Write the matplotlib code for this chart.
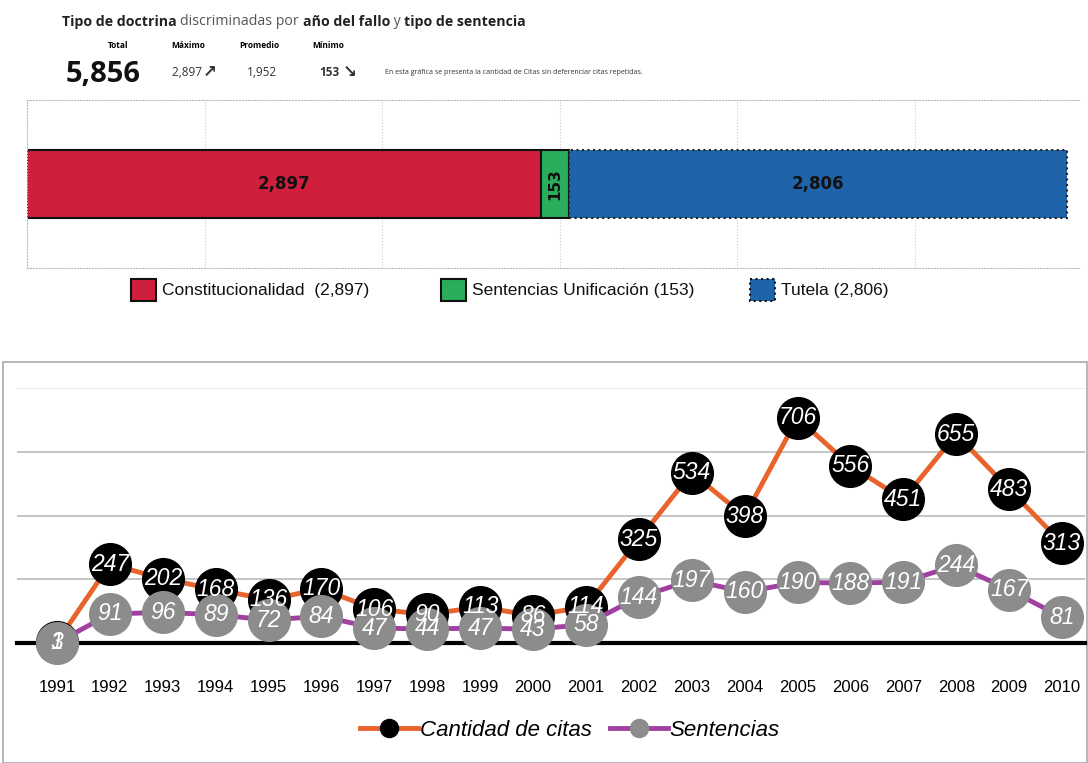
import matplotlib
matplotlib.use('Agg')
import matplotlib.pyplot as plt
from matplotlib.patches import Rectangle
from matplotlib.lines import Line2D

# --- data ---
tipos = ['Constitucionalidad', 'Sentencias Unificación', 'Tutela']
tipo_valores = [2897, 153, 2806]
tipo_colores = ['#D01F3C', '#2BAE5B', '#1F63A8']

anios = list(range(1991, 2011))
citas = [3, 247, 202, 168, 136, 170, 106, 90, 113, 86, 114,
         325, 534, 398, 706, 556, 451, 655, 483, 313]
sentencias = [1, 91, 96, 89, 72, 84, 47, 44, 47, 43, 58,
              144, 197, 160, 190, 188, 191, 244, 167, 81]

W, H = 1088, 763
NARROW = ['Liberation Sans Narrow', 'Liberation Sans', 'DejaVu Sans']
HEAD = ['Open Sans', 'DejaVu Sans']


def box(x0, y0, x1, y1):
    return [x0 / W, 1 - y1 / H, (x1 - x0) / W, (y1 - y0) / H]


def main():
    fig = plt.figure(figsize=(W / 100, H / 100), dpi=100)
    fig.patch.set_facecolor('white')

    # overlay in pixel coordinates for header text and legend boxes
    bg = fig.add_axes([0, 0, 1, 1])
    bg.set_xlim(0, W)
    bg.set_ylim(H, 0)
    bg.axis('off')

    # title, built piece by piece
    parts = [('Tipo de doctrina ', 'bold', '#222222'),
             ('discriminadas por ', 'normal', '#555555'),
             ('año del fallo', 'bold', '#222222'),
             (' y ', 'normal', '#555555'),
             ('tipo de sentencia', 'bold', '#222222')]
    prev = bg.text(62, 26, parts[0][0], fontsize=10.2, fontweight=parts[0][1],
                   color=parts[0][2], family=HEAD, va='baseline')
    for txt, wt, col in parts[1:]:
        prev = bg.annotate(txt, xy=(1, 0), xycoords=prev, fontsize=10.2,
                           fontweight=wt, color=col, family=HEAD, va='bottom')

    total = sum(tipo_valores)
    maximo = max(tipo_valores)
    minimo = min(tipo_valores)
    promedio = round(total / len(tipo_valores))

    bg.text(118, 46, 'Total', fontsize=6, fontweight='bold', family=HEAD, ha='center', va='center')
    bg.text(103, 74, f'{total:,}', fontsize=21, fontweight='bold', family=HEAD,
            ha='center', va='center', color='#111111')
    bg.text(188, 46, 'Máximo', fontsize=6, fontweight='bold', family=HEAD, ha='center', va='center')
    bg.text(172, 73, f'{maximo:,} ', fontsize=8.5, family=HEAD, ha='left', va='center', color='#333333')
    bg.text(210, 72, '↗', fontsize=12, fontweight='bold', family=['DejaVu Sans'],
            ha='center', va='center', color='#333333')
    bg.text(259, 46, 'Promedio', fontsize=6, fontweight='bold', family=HEAD, ha='center', va='center')
    bg.text(262, 73, f'{promedio:,}', fontsize=8.5, family=HEAD, ha='center', va='center', color='#333333')
    bg.text(328, 46, 'Mínimo', fontsize=6, fontweight='bold', family=HEAD, ha='center', va='center')
    bg.text(339, 73, f'{minimo:,}', fontsize=8.5, fontweight='bold', family=HEAD,
            ha='right', va='center', color='#333333')
    bg.text(350, 72, '↘', fontsize=12, fontweight='bold', family=['DejaVu Sans'],
            ha='center', va='center', color='#333333')
    bg.text(385, 73, 'En esta gráfica se presenta la cantidad de Citas sin deferenciar citas repetidas.',
            fontsize=5, family=HEAD, ha='left', va='center', color='#333333')

    # --- stacked horizontal bar ---
    ax1 = fig.add_axes(box(27, 100, 1080, 268))
    left = 0
    for nombre, val, col in zip(tipos, tipo_valores, tipo_colores):
        if nombre == 'Tutela':
            ax1.barh(0.5, val, left=left, height=0.4, color=col,
                     edgecolor='#222222', linestyle=':', linewidth=1.5)
        else:
            ax1.barh(0.5, val, left=left, height=0.4, color=col,
                     edgecolor='#111111', linewidth=1.5)
        cx = left + val / 2
        if val < 500:
            ax1.text(cx, 0.5, f'{val:,}', rotation=90, ha='center', va='center',
                     fontsize=11, fontweight='bold', family=['DejaVu Sans'], color='#111111')
        else:
            ax1.text(cx, 0.5, f'{val:,}', ha='center', va='center',
                     fontsize=12, fontweight='bold', family=['DejaVu Sans'], color='#111111')
        left += val
    ax1.set_xlim(0, total * (1080 - 27) / (1067 - 27))
    ax1.set_ylim(0, 1)
    ax1.set_xticks(range(1000, 6000, 1000))
    ax1.set_yticks([])
    ax1.tick_params(axis='x', length=0, labelbottom=False)
    ax1.grid(axis='x', color='#cccccc', linestyle=':', linewidth=0.8)
    ax1.set_axisbelow(True)
    for sp in ax1.spines.values():
        sp.set_color('#bbbbbb')
        sp.set_linestyle(':')
        sp.set_linewidth(0.8)
    ax1.spines['right'].set_visible(False)

    # legend for the bar
    leg_x = [131, 441, 750]
    for x, nombre, val, col in zip(leg_x, tipos, tipo_valores, tipo_colores):
        ls = ':' if nombre == 'Tutela' else '-'
        bg.add_patch(Rectangle((x, 279), 25, 22, facecolor=col, edgecolor='#111111',
                               linewidth=1.5, linestyle=ls))
        sep = '  ' if nombre == 'Constitucionalidad' else ' '
        bg.text(x + 31, 291, f'{nombre}{sep}({val:,})', fontsize=12.5, family=['Liberation Sans'],
                ha='left', va='center', color='#111111')

    # frame around the line chart
    bg.add_patch(Rectangle((3, 362), W - 4, H - 362, facecolor='none',
                           edgecolor='#aaaaaa', linewidth=1.2))

    # --- line chart ---
    ax2 = fig.add_axes(box(17, 388, 1085, 643))
    idx = list(range(len(anios)))
    ax2.plot(idx, citas, color='#E8642C', linewidth=3.5, marker='o', markersize=30,
             markerfacecolor='black', markeredgecolor='black', clip_on=False, zorder=3)
    ax2.plot(idx, sentencias, color='#A040A0', linewidth=3.5, marker='o', markersize=30,
             markerfacecolor='#8C8C8C', markeredgecolor='#8C8C8C', clip_on=False, zorder=4)
    for i, v in enumerate(citas):
        ax2.text(i, v, str(v), ha='center', va='center', fontsize=16.5, style='italic',
                 family=NARROW, color='white', zorder=6, clip_on=False)
    for i, v in enumerate(sentencias):
        ax2.text(i, v, str(v), ha='center', va='center', fontsize=16.5, style='italic',
                 family=NARROW, color='white', zorder=7, clip_on=False)

    step = (1062 - 57) / 19
    ax2.set_xlim(-(57 - 17) / step, 19 + (1085 - 1062) / step)
    ax2.set_ylim(0, 800)
    ax2.set_yticks([200, 400, 600, 800])
    ax2.set_xticks(idx)
    ax2.set_xticklabels([str(a) for a in anios], fontsize=12, family=['Liberation Sans'])
    ax2.tick_params(axis='x', length=0, pad=27)
    ax2.tick_params(axis='y', length=0, labelleft=False)
    ax2.grid(axis='y', color='#bbbbbb', linewidth=1.2)
    ax2.get_ygridlines()[-1].set_color('#e6e6e6')
    ax2.set_axisbelow(True)
    for sp in ['top', 'right', 'left']:
        ax2.spines[sp].set_visible(False)
    ax2.spines['bottom'].set_color('black')
    ax2.spines['bottom'].set_linewidth(3)
    ax2.spines['bottom'].set_zorder(2)
    ax2.patch.set_alpha(0)

    handles = [
        Line2D([], [], color='#E8642C', linewidth=3.5, marker='o', markersize=13,
               markerfacecolor='black', markeredgecolor='black'),
        Line2D([], [], color='#A040A0', linewidth=3.5, marker='o', markersize=13,
               markerfacecolor='#8C8C8C', markeredgecolor='#8C8C8C'),
    ]
    fig.legend(handles, ['Cantidad de citas', 'Sentencias'], loc='center',
               bbox_to_anchor=(570 / W, 1 - 730 / H), ncol=2, frameon=False,
               handlelength=2.6, handletextpad=0.1, columnspacing=0.8,
               prop={'family': NARROW, 'style': 'italic', 'size': 16})

    fig.savefig('out.png', dpi=100)


if __name__ == '__main__':
    main()
